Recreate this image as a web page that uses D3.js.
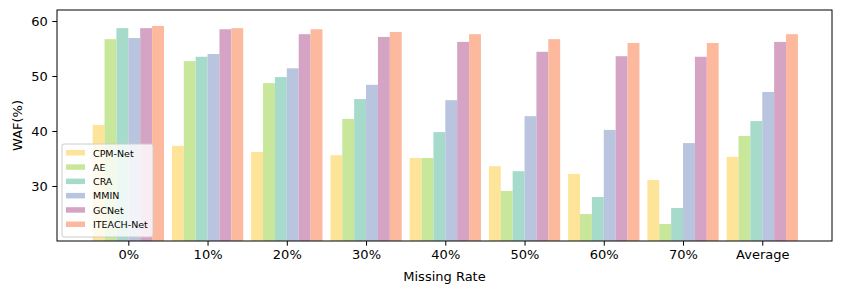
<!DOCTYPE html>
<html>
<head>
<meta charset="utf-8">
<script src="https://cdn.jsdelivr.net/npm/d3@7"></script>
<style>
  body { margin: 0; background: #fff; }
  svg text { font-family: "DejaVu Sans", sans-serif; fill: #000; }
</style>
</head>
<body>
<div id="content"></div>
<script>
const categories = ['0%', '10%', '20%', '30%', '40%', '50%', '60%', '70%', 'Average'];
const methods = ['CPM-Net', 'AE', 'CRA', 'MMIN', 'GCNet', 'ITEACH-Net'];
const cpmNet   = [41.1, 37.3, 36.2, 35.6, 35.1, 33.6, 32.2, 31.1, 35.3];
const ae       = [56.7, 52.7, 48.7, 42.2, 35.1, 29.1, 24.9, 23.1, 39.1];
const cra      = [58.7, 53.5, 49.8, 45.8, 39.8, 32.7, 28.0, 26.0, 41.8];
const mmin     = [56.9, 54.0, 51.4, 48.4, 45.6, 42.7, 40.2, 37.8, 47.1];
const gcNet    = [58.7, 58.5, 57.6, 57.1, 56.2, 54.4, 53.6, 53.5, 56.2];
const iteachNet = [59.1, 58.7, 58.5, 58.0, 57.6, 56.7, 56.0, 56.0, 57.6];
const yTicks = [30, 40, 50, 60];
const colors = ['#fee499', '#c9e79a', '#a6dacb', '#b9c4de', '#d5a4c4', '#fdb99e'];

const series = [cpmNet, ae, cra, mmin, gcNet, iteachNet];

const W = 842, H = 294;
const m = {left: 57, right: 10, top: 10, bottom: 53};

const svg = d3.select('#content').append('svg')
  .attr('width', W).attr('height', H);

const x = d3.scaleLinear().domain([-0.9, 8.88]).range([m.left, W - m.right]);
const y = d3.scaleLinear().domain([20, 62]).range([H - m.bottom, m.top]);

const barW = 0.15;
const g = svg.append('g');
series.forEach((vals, si) => {
  g.selectAll(null).data(vals).enter().append('rect')
    .attr('x', (d, i) => x(i + (si - 3) * barW))
    .attr('y', d => y(d))
    .attr('width', x(barW) - x(0))
    .attr('height', d => y(20) - y(d))
    .attr('fill', colors[si]);
});

// axes
const xAxis = d3.axisBottom(x)
  .tickValues(d3.range(categories.length))
  .tickFormat(i => categories[i])
  .tickSize(4.7).tickPadding(4.5);
const yAxis = d3.axisLeft(y).tickValues(yTicks).tickSize(4.7).tickPadding(4.5);

const gx = svg.append('g').attr('transform', `translate(0,${H - m.bottom})`).call(xAxis);
const gy = svg.append('g').attr('transform', `translate(${m.left},0)`).call(yAxis);
[gx, gy].forEach(a => {
  a.select('.domain').remove();
  a.selectAll('text').attr('font-size', 13).attr('font-family', '"DejaVu Sans", sans-serif');
  a.selectAll('line').attr('stroke', '#000').attr('stroke-width', 1);
});

svg.append('rect')
  .attr('x', m.left).attr('y', m.top)
  .attr('width', W - m.left - m.right).attr('height', H - m.top - m.bottom)
  .attr('fill', 'none').attr('stroke', '#000').attr('stroke-width', 1);

svg.append('text').attr('x', (m.left + W - m.right) / 2).attr('y', 281)
  .attr('text-anchor', 'middle').attr('font-size', 13).text('Missing Rate');
svg.append('text')
  .attr('transform', `translate(21.5,${(m.top + H - m.bottom) / 2}) rotate(-90)`)
  .attr('text-anchor', 'middle').attr('font-size', 13).text('WAF(%)');

// legend
const lg = svg.append('g').attr('transform', 'translate(62,144)');
lg.append('rect').attr('width', 91).attr('height', 93).attr('rx', 2)
  .attr('fill', 'rgba(255,255,255,0.8)').attr('stroke', '#ccc').attr('stroke-width', 1);
methods.forEach((name, i) => {
  const row = lg.append('g').attr('transform', `translate(0,${9 + i * 14.3})`);
  row.append('rect').attr('x', 4).attr('y', -3).attr('width', 19).attr('height', 5.5).attr('fill', colors[i]);
  row.append('text').attr('x', 31).attr('y', 3.5).attr('font-size', 9.5).text(name);
});
</script>
</body>
</html>
